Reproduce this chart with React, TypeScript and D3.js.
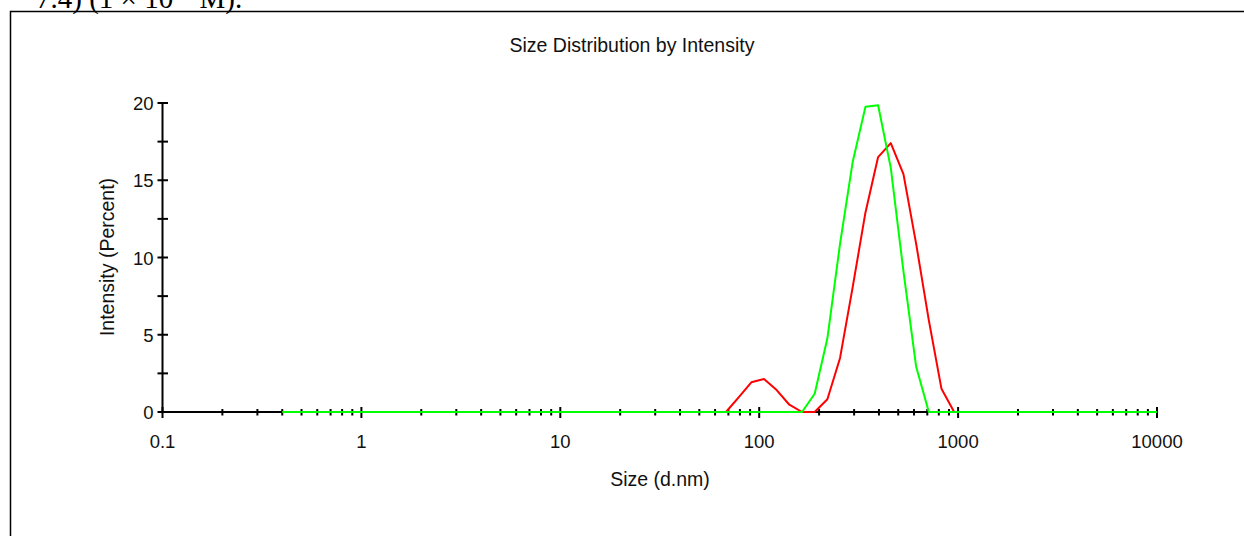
import React from "react";
import * as d3 from "d3";

// Size bins (d.nm)
const sizes: number[] = [
  0.4, 0.4632, 0.5365, 0.6213, 0.7195, 0.8332, 0.9649, 1.117, 1.294, 1.499,
  1.736, 2.01, 2.328, 2.696, 3.122, 3.615, 4.187, 4.849, 5.615, 6.503,
  7.531, 8.721, 10.1, 11.7, 13.54, 15.69, 18.17, 21.04, 24.36, 28.21,
  32.67, 37.84, 43.82, 50.75, 58.77, 68.06, 78.82, 91.28, 105.7, 122.4,
  141.8, 164.2, 190.1, 220.2, 255.0, 295.3, 342.0, 396.1, 458.7, 531.2,
  615.1, 712.4, 825.0, 955.4, 1106, 1281, 1484, 1718, 1990, 2305,
  2669, 3091, 3580, 4145, 4801, 5560, 6439, 7456, 8635, 10000,
];

// Intensity (%) – red record
const redIntensity: number[] = [
  0, 0, 0, 0, 0, 0, 0, 0, 0, 0,
  0, 0, 0, 0, 0, 0, 0, 0, 0, 0,
  0, 0, 0, 0, 0, 0, 0, 0, 0, 0,
  0, 0, 0, 0, 0, 0, 0.95, 1.92, 2.14, 1.42,
  0.47, 0, 0, 0.82, 3.5, 8.1, 12.9, 16.5, 17.4, 15.4,
  10.9, 5.95, 1.5, 0, 0, 0, 0, 0, 0, 0,
  0, 0, 0, 0, 0, 0, 0, 0, 0, 0,
];

// Intensity (%) – green record
const greenIntensity: number[] = [
  0, 0, 0, 0, 0, 0, 0, 0, 0, 0,
  0, 0, 0, 0, 0, 0, 0, 0, 0, 0,
  0, 0, 0, 0, 0, 0, 0, 0, 0, 0,
  0, 0, 0, 0, 0, 0, 0, 0, 0, 0,
  0, 0, 1.18, 4.77, 10.9, 16.2, 19.75, 19.85, 15.8, 9.1,
  2.95, 0, 0, 0, 0, 0, 0, 0, 0, 0,
  0, 0, 0, 0, 0, 0, 0, 0, 0, 0,
];

const xTickLabels: number[] = [0.1, 1, 10, 100, 1000, 10000];
const yTickLabels: number[] = [0, 5, 10, 15, 20];
const yMinorTicks: number[] = [2.5, 7.5, 12.5, 17.5];

const title = "Size Distribution by Intensity";
const xLabel = "Size (d.nm)";
const yLabel = "Intensity (Percent)";

const W = 1244;
const H = 536;
const font = "'Liberation Sans', Arial, sans-serif";

export default function App() {
  const x = d3.scaleLog().domain([0.1, 10000]).range([162.5, 1157]);
  const y = d3.scaleLinear().domain([0, 20]).range([412, 103]);

  // minor log ticks
  const minor: number[] = [];
  for (let e = -1; e < 4; e++) {
    for (let m = 2; m <= 9; m++) minor.push(m * Math.pow(10, e));
  }

  const line = d3
    .line<number>()
    .x((_, i) => x(sizes[i]))
    .y((d) => y(d));

  const y0 = y(0);

  return (
    <svg
      width={W}
      height={H}
      style={{ position: "absolute", left: 0, top: 0, background: "#fff" }}
    >
      <rect x={0} y={0} width={W} height={H} fill="#fff" />
      {/* cropped document text above the frame */}
      <text
        x={36}
        y={8}
        fontFamily="'Liberation Serif', 'Times New Roman', serif"
        fontSize={29}
        fill="#000"
      >
        7.4) (1 × 10<tspan dy={-11} fontSize={18}>−5</tspan>
        <tspan dy={11}> M).</tspan>
      </text>
      {/* frame */}
      <path d={`M10.5,${H} V11.5 H${W}`} fill="none" stroke="#000" strokeWidth={1.5} />

      {/* title */}
      <text x={632} y={52} textAnchor="middle" fontFamily={font} fontSize={19.5} fill="#111">
        {title}
      </text>

      {/* y axis */}
      <line x1={x(0.1)} x2={x(0.1)} y1={y(20)} y2={y0} stroke="#000" strokeWidth={2} />
      {yTickLabels.map((v) => (
        <g key={"yt" + v}>
          <line x1={x(0.1) - 5} x2={x(0.1) + 5.5} y1={y(v)} y2={y(v)} stroke="#000" strokeWidth={2} />
          <text x={153.5} y={y(v) + 7} textAnchor="end" fontFamily={font} fontSize={18.5} fill="#111">
            {v}
          </text>
        </g>
      ))}
      {yMinorTicks.map((v) => (
        <line key={"ym" + v} x1={x(0.1) - 5} x2={x(0.1) + 5.5} y1={y(v)} y2={y(v)} stroke="#000" strokeWidth={2} />
      ))}
      <text
        transform={`translate(114,${257}) rotate(-90)`}
        textAnchor="middle"
        fontFamily={font}
        fontSize={19.5}
        fill="#111"
      >
        {yLabel}
      </text>

      {/* x axis */}
      <line x1={x(0.1)} x2={x(10000)} y1={y0} y2={y0} stroke="#000" strokeWidth={2} />
      {minor.map((v) => (
        <line key={"xm" + v} x1={x(v)} x2={x(v)} y1={y0 - 3} y2={y0 + 3.5} stroke="#000" strokeWidth={2} />
      ))}
      {xTickLabels.map((v) => (
        <g key={"xt" + v}>
          <line x1={x(v)} x2={x(v)} y1={y0 - 5} y2={y0 + 6} stroke="#000" strokeWidth={2} />
          <text x={x(v)} y={448} textAnchor="middle" fontFamily={font} fontSize={18.5} fill="#111">
            {v}
          </text>
        </g>
      ))}
      <text x={660} y={486} textAnchor="middle" fontFamily={font} fontSize={19.5} fill="#111">
        {xLabel}
      </text>

      {/* data */}
      <path d={line(redIntensity) || ""} fill="none" stroke="#ff0000" strokeWidth={2} strokeLinejoin="round" />
      <path d={line(greenIntensity) || ""} fill="none" stroke="#00ff00" strokeWidth={2} strokeLinejoin="round" />
    </svg>
  );
}
